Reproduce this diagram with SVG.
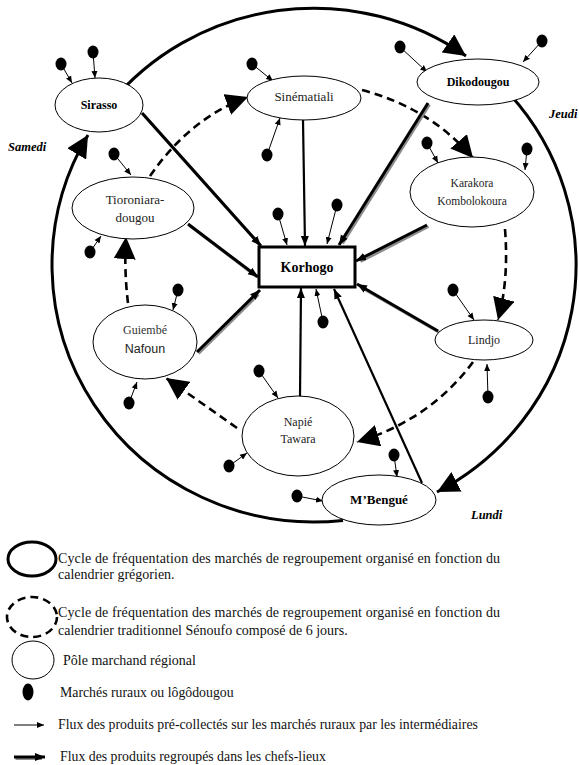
<svg xmlns="http://www.w3.org/2000/svg" width="579" height="765" viewBox="0 0 579 765">
<style>
.node ellipse{fill:#fff;stroke:#000;stroke-width:1}
.lbl{font-family:"Liberation Serif","Times New Roman",serif;font-size:12px;fill:#222;text-anchor:middle}
.b{font-weight:bold;fill:#000}
.day{font-family:"Liberation Serif","Times New Roman",serif;font-size:12.5px;font-weight:bold;font-style:italic;fill:#000}
.ring{fill:none;stroke:#000;stroke-width:3;marker-end:url(#big)}
.dash{fill:none;stroke:#000;stroke-width:2.6;stroke-dasharray:8 5;marker-end:url(#big)}
.th{stroke:#000;stroke-width:3;marker-end:url(#mid)}
.sh{stroke:#8c8c8c;stroke-width:3}
.md{stroke:#000;stroke-width:2.2;marker-end:url(#mid)}
.tn{stroke:#000;stroke-width:1;marker-end:url(#small)}
.dot{fill:#000}
.leg{font-family:"Liberation Serif","Times New Roman",serif;font-size:14px;fill:#111}
.leg2{font-family:"Liberation Serif","Times New Roman",serif;font-size:13.8px;fill:#111}
</style>
<defs>
<marker id="big" markerUnits="userSpaceOnUse" markerWidth="22" markerHeight="22" viewBox="0 0 20 20" refX="20" refY="10" orient="auto"><path d="M0,0 L20,10 L0,20 z" fill="#000"/></marker>
<marker id="mid" markerUnits="userSpaceOnUse" markerWidth="10" markerHeight="10" viewBox="0 0 10 10" refX="10" refY="5" orient="auto"><path d="M0,1 L10,5 L0,9 z" fill="#000"/></marker>
<marker id="small" markerUnits="userSpaceOnUse" markerWidth="7" markerHeight="7" viewBox="0 0 7 7" refX="7" refY="3.5" orient="auto"><path d="M0,0.5 L7,3.5 L0,6.5 z" fill="#000"/></marker>
</defs>

<g id="connectors">
<path class="ring" d="M343,520.4 A262,257 0 0 1 88,135"/>
<path class="ring" d="M110,103.7 A262,257 0 0 1 466,56"/>
<path class="ring" d="M510,94.5 A262,257 0 0 1 437,492"/>
<path class="dash" d="M150,176 Q190,118 248,97"/>
<path class="dash" d="M362,90 Q430,108 473,158"/>
<path class="dash" d="M505,229 Q509,280 498,320"/>
<path class="dash" d="M473,362 Q430,420 357,442"/>
<path class="dash" d="M237,428 L166,378"/>
<path class="dash" d="M128,303 Q124,270 126,237"/>
<g transform="translate(1.5,1.5)">
<line class="sh" x1="142" y1="113" x2="258" y2="243"/>
<line class="sh" x1="188" y1="224" x2="255" y2="275"/>
<line class="sh" x1="197" y1="352" x2="257" y2="293"/>
<line class="sh" x1="428" y1="103" x2="341" y2="242"/>
<line class="sh" x1="427" y1="225" x2="359" y2="260"/>
<line class="sh" x1="438" y1="331" x2="360" y2="286"/>
</g>
<line class="th" x1="142" y1="113" x2="261" y2="246"/>
<line class="th" x1="188" y1="224" x2="258" y2="277"/>
<line class="th" x1="197" y1="352" x2="260" y2="290"/>
<line class="th" x1="428" y1="103" x2="339" y2="245"/>
<line class="th" x1="427" y1="225" x2="356" y2="261"/>
<line class="th" x1="438" y1="331" x2="357" y2="284"/>
<line class="md" x1="303" y1="120" x2="305" y2="246"/>
<line class="md" x1="300" y1="397" x2="301" y2="288"/>
<line class="md" x1="422" y1="483" x2="334" y2="289"/>
<line class="tn" x1="61" y1="64" x2="72" y2="83"/>
<line class="tn" x1="93" y1="52" x2="95" y2="78"/>
<line class="tn" x1="252" y1="64" x2="273" y2="81"/>
<line class="tn" x1="267" y1="155" x2="280" y2="118"/>
<line class="tn" x1="400" y1="47" x2="427" y2="72"/>
<line class="tn" x1="542" y1="41" x2="523" y2="62"/>
<line class="tn" x1="427" y1="143" x2="438" y2="163"/>
<line class="tn" x1="527" y1="149" x2="525" y2="170"/>
<line class="tn" x1="278" y1="214" x2="287" y2="245"/>
<line class="tn" x1="337" y1="205" x2="327" y2="244"/>
<line class="tn" x1="323" y1="322" x2="316" y2="289"/>
<line class="tn" x1="114" y1="154" x2="131" y2="175"/>
<line class="tn" x1="90" y1="252" x2="101" y2="236"/>
<line class="tn" x1="178" y1="290" x2="173" y2="310"/>
<line class="tn" x1="129" y1="403" x2="137" y2="382"/>
<line class="tn" x1="259" y1="371" x2="278" y2="398"/>
<line class="tn" x1="229" y1="466" x2="247" y2="453"/>
<line class="tn" x1="453" y1="290" x2="474" y2="320"/>
<line class="tn" x1="488" y1="397" x2="487" y2="364"/>
<line class="tn" x1="297" y1="496" x2="323" y2="501"/>
<line class="tn" x1="394" y1="455" x2="397" y2="477"/>
</g>

<g id="rural-markets">
<ellipse class="dot" cx="61" cy="64" rx="5.5" ry="6.5"/>
<ellipse class="dot" cx="93" cy="52" rx="5.5" ry="6.5"/>
<ellipse class="dot" cx="252" cy="64" rx="5.5" ry="6.5"/>
<ellipse class="dot" cx="267" cy="155" rx="5.5" ry="6.5"/>
<ellipse class="dot" cx="400" cy="47" rx="5.5" ry="6.5"/>
<ellipse class="dot" cx="542" cy="41" rx="5.5" ry="6.5"/>
<ellipse class="dot" cx="427" cy="143" rx="5.5" ry="6.5"/>
<ellipse class="dot" cx="527" cy="149" rx="5.5" ry="6.5"/>
<ellipse class="dot" cx="278" cy="214" rx="5.5" ry="6.5"/>
<ellipse class="dot" cx="337" cy="205" rx="5.5" ry="6.5"/>
<ellipse class="dot" cx="323" cy="322" rx="5.5" ry="6.5"/>
<ellipse class="dot" cx="114" cy="154" rx="5.5" ry="6.5"/>
<ellipse class="dot" cx="90" cy="252" rx="5.5" ry="6.5"/>
<ellipse class="dot" cx="178" cy="290" rx="5.5" ry="6.5"/>
<ellipse class="dot" cx="129" cy="403" rx="5.5" ry="6.5"/>
<ellipse class="dot" cx="259" cy="371" rx="5.5" ry="6.5"/>
<ellipse class="dot" cx="229" cy="466" rx="5.5" ry="6.5"/>
<ellipse class="dot" cx="453" cy="290" rx="5.5" ry="6.5"/>
<ellipse class="dot" cx="488" cy="397" rx="5.5" ry="6.5"/>
<ellipse class="dot" cx="297" cy="496" rx="5.5" ry="6.5"/>
<ellipse class="dot" cx="394" cy="455" rx="5.5" ry="6.5"/>
</g>

<g id="sirasso" class="node"><ellipse cx="99" cy="105" rx="44" ry="27"/><text class="lbl b" x="99" y="109">Sirasso</text></g>
<g id="sinematiali" class="node"><ellipse cx="304" cy="98" rx="57" ry="22"/><text class="lbl" x="304" y="101" style="font-size:13px">Sinématiali</text></g>
<g id="dikodougou" class="node"><ellipse cx="478" cy="82" rx="61" ry="23"/><text class="lbl b" x="478" y="86">Dikodougou</text></g>
<g id="karakora" class="node"><ellipse cx="472" cy="192" rx="62" ry="35"/><text class="lbl" x="472" y="187" style="font-size:11.5px">Karakora</text><text class="lbl" x="472" y="205" style="font-size:11.5px">Kombolokoura</text></g>
<g id="tioroniara" class="node"><ellipse cx="133" cy="208" rx="61" ry="31"/><text class="lbl" x="135" y="204" style="font-size:13px">Tioroniara-</text><text class="lbl" x="135" y="222" style="font-size:13px">dougou</text></g>
<g id="guiembe" class="node"><ellipse cx="145" cy="342" rx="52" ry="37"/><text class="lbl" x="145" y="334" style="fill:#333">Guiembé</text><text class="lbl" x="145" y="353" style="font-family:'Liberation Sans',Arial,sans-serif;font-size:12.5px">Nafoun</text></g>
<g id="lindjo" class="node"><ellipse cx="484" cy="340" rx="49" ry="20"/><text class="lbl" x="484" y="344">Lindjo</text></g>
<g id="napie" class="node"><ellipse cx="298" cy="436" rx="56" ry="40"/><text class="lbl" x="298" y="426">Napié</text><text class="lbl" x="298" y="443">Tawara</text></g>
<g id="mbengue" class="node"><ellipse cx="379" cy="500" rx="57" ry="25"/><text class="lbl b" x="379" y="504" style="font-size:13px">M’Bengué</text></g>
<g id="korhogo"><rect x="259" y="247" width="96" height="40" fill="#fff" stroke="#000" stroke-width="3"/><text class="lbl b" x="307" y="272" style="font-size:14px">Korhogo</text></g>

<g id="days">
<text class="day" x="8" y="151">Samedi</text>
<text class="day" x="549" y="118">Jeudi</text>
<text class="day" x="471" y="519">Lundi</text>
</g>

<g id="legend">
<ellipse cx="32" cy="559" rx="24" ry="17" fill="none" stroke="#000" stroke-width="3"/>
<text class="leg" x="58" y="563" textLength="442" lengthAdjust="spacing">Cycle de fréquentation des marchés de regroupement organisé en fonction du</text>
<text class="leg" x="58" y="579">calendrier grégorien.</text>
<ellipse cx="32" cy="617" rx="25" ry="20" fill="none" stroke="#000" stroke-width="2.6" stroke-dasharray="8 5"/>
<text class="leg" x="58" y="617" textLength="442" lengthAdjust="spacing">Cycle de fréquentation des marchés de regroupement organisé en fonction du</text>
<text class="leg" x="58" y="635">calendrier traditionnel Sénoufo composé de 6 jours.</text>
<ellipse cx="33" cy="660" rx="21" ry="19" fill="none" stroke="#000" stroke-width="1"/>
<text class="leg" x="63" y="665">Pôle marchand régional</text>
<ellipse class="dot" cx="28" cy="692" rx="5.5" ry="8.5"/>
<text class="leg2" x="60" y="697">Marchés ruraux ou lôgôdougou</text>
<line class="tn" x1="14" y1="725" x2="44" y2="725"/>
<text class="leg2" x="58" y="729">Flux des produits pré-collectés sur les marchés ruraux par les intermédiaires</text>
<line class="sh" x1="15.5" y1="758.5" x2="42" y2="758.5"/>
<line class="th" x1="14" y1="757" x2="45" y2="757"/>
<text class="leg2" x="60" y="761">Flux des produits regroupés dans les chefs-lieux</text>
</g>
</svg>
